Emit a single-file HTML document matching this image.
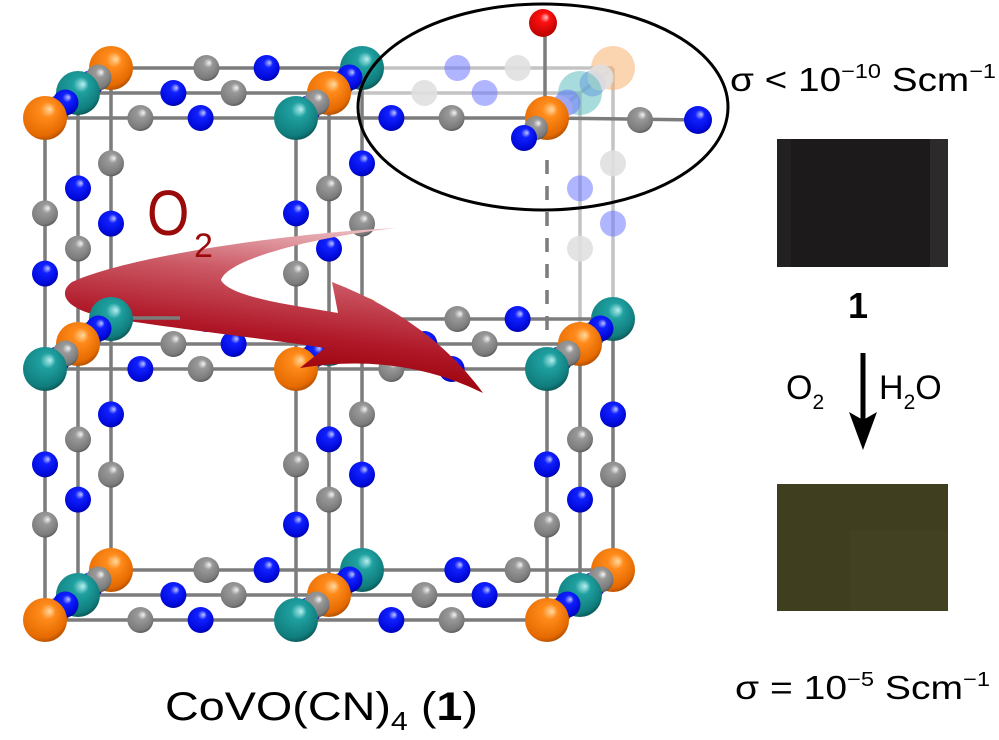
<!DOCTYPE html>
<html><head><meta charset="utf-8"><style>
html,body{margin:0;padding:0;background:#fff;}
svg{display:block;}
text{font-family:"Liberation Sans",Arial,sans-serif;}
</style></head><body>
<svg id="s" width="999" height="740" viewBox="0 0 999 740" xmlns="http://www.w3.org/2000/svg">
<defs>
<radialGradient id="gO" cx="0.4" cy="0.35" r="0.7" fx="0.62" fy="0.3"><stop offset="0" stop-color="#ffd9a0"/><stop offset="0.25" stop-color="#ff8a1a"/><stop offset="0.8" stop-color="#e56a00"/><stop offset="1" stop-color="#a84a00"/></radialGradient>
<radialGradient id="gT" cx="0.4" cy="0.35" r="0.7" fx="0.62" fy="0.3"><stop offset="0" stop-color="#b8f0f0"/><stop offset="0.25" stop-color="#1fa0a0"/><stop offset="0.8" stop-color="#107c7c"/><stop offset="1" stop-color="#0a5050"/></radialGradient>
<radialGradient id="gC" cx="0.4" cy="0.35" r="0.7" fx="0.62" fy="0.3"><stop offset="0" stop-color="#f4f4f4"/><stop offset="0.25" stop-color="#999"/><stop offset="0.8" stop-color="#7a7a7a"/><stop offset="1" stop-color="#505050"/></radialGradient>
<radialGradient id="gN" cx="0.4" cy="0.35" r="0.7" fx="0.62" fy="0.3"><stop offset="0" stop-color="#c0c8ff"/><stop offset="0.25" stop-color="#1020ff"/><stop offset="0.8" stop-color="#0008d8"/><stop offset="1" stop-color="#000490"/></radialGradient>
<radialGradient id="gR" cx="0.4" cy="0.35" r="0.7" fx="0.62" fy="0.3"><stop offset="0" stop-color="#ffc0c0"/><stop offset="0.25" stop-color="#ff1010"/><stop offset="1" stop-color="#b00000"/></radialGradient>
<linearGradient id="gA" gradientUnits="userSpaceOnUse" x1="420" y1="225" x2="400" y2="390"><stop offset="0" stop-color="#f2d0d4"/><stop offset="0.4" stop-color="#cc5a66"/><stop offset="0.75" stop-color="#b01828"/><stop offset="1" stop-color="#9a0008"/></linearGradient>
</defs>
<g id="lines"></g>
<g id="atomsBack"></g>
<path id="arrow" d="M397,228 C300,232 130,255 72,282 C58,292 62,310 110,318 C170,328 260,338 325,348 L300,368 Q400,352 483,393 Q430,320 332,282 L338,313 C300,306 230,298 221,280 C228,258 320,236 397,228 Z" fill="url(#gA)"/>
<g id="atomsFront"></g>
<ellipse cx="543" cy="107" rx="185" ry="103" fill="none" stroke="#000" stroke-width="3"/>
<text x="147" y="235" font-size="64" fill="#9a0a0a" transform="translate(147,0) scale(0.85,1) translate(-147,0)">O</text>
<text x="194" y="257" font-size="34" fill="#9a0a0a">2</text>

<text x="730" y="91" font-size="33" textLength="266" lengthAdjust="spacingAndGlyphs">σ &lt; 10<tspan dy="-13" font-size="20">−10</tspan><tspan dy="13"> Scm</tspan><tspan dy="-13" font-size="20">−1</tspan></text>
<rect x="777" y="139" width="171" height="128" fill="#1c1a1a"/>
<rect x="930" y="139" width="18" height="128" fill="#2c2a2a"/>
<rect x="777" y="139" width="14" height="128" fill="#222020"/>
<text x="858" y="318" font-size="36" font-weight="bold" text-anchor="middle">1</text>
<line x1="863" y1="353" x2="863" y2="420" stroke="#000" stroke-width="5"/>
<path d="M849,412 L863,420 L877,412 L863,450 Z" fill="#000"/>
<text x="786" y="399" font-size="34">O<tspan dy="10" font-size="21">2</tspan></text>
<text x="879" y="399" font-size="34">H<tspan dy="10" font-size="21">2</tspan><tspan dy="-10">O</tspan></text>
<rect x="777" y="484" width="171" height="127" fill="#3f3e1e"/>
<rect x="850" y="530" width="98" height="81" fill="#444322" opacity="0.7"/>
<text x="735" y="699" font-size="33" textLength="255" lengthAdjust="spacingAndGlyphs">σ = 10<tspan dy="-13" font-size="20">−5</tspan><tspan dy="13"> Scm</tspan><tspan dy="-13" font-size="20">−1</tspan></text>

<text x="165" y="720" font-size="40" textLength="313" lengthAdjust="spacingAndGlyphs">CoVO(CN)<tspan dy="10" font-size="26">4</tspan><tspan dy="-10"> (</tspan><tspan font-weight="bold">1</tspan>)</text>
</svg>
<script>
(function(){
var NS="http://www.w3.org/2000/svg";
var X=[45,296,547],Y=[118,369,620],DX=33,DY=-25;
function P(c,r,d){return [X[c]+DX*d,Y[r]+DY*d];}
function isO(c,r,d){return (c+r+d)%2==0;}
function faded(c,r,d){return c==2&&r==0&&(d==1||d==2);}
var lines=document.getElementById('lines'),back=document.getElementById('atomsBack'),front=document.getElementById('atomsFront');
function mk(t,a,p){var e=document.createElementNS(NS,t);for(var k in a)e.setAttribute(k,a[k]);p.appendChild(e);return e;}
var atoms=[];
function line(a,b,f,dash,par){mk('line',{x1:a[0],y1:a[1],x2:b[0],y2:b[1],stroke:f?'#c4c4c4':'#7c7c7c','stroke-width':3.5,'stroke-dasharray':dash||'none'},par||lines);}
function edge(c1,r1,d1,c2,r2,d2){
  var a=P(c1,r1,d1),b=P(c2,r2,d2);
  var f=faded(c1,r1,d1)||faded(c2,r2,d2);
  if(c1==2&&c2==2&&r1==0&&r2==1&&d1==0&&d2==0){
    line([547,160],[547,335],false,'14,12');return;}
  line(a,b,f);
  var o=isO(c1,r1,d1);
  var t1=0.38,t2=0.62;
  var p1=[a[0]+(b[0]-a[0])*t1,a[1]+(b[1]-a[1])*t1],p2=[a[0]+(b[0]-a[0])*t2,a[1]+(b[1]-a[1])*t2];
  var dep=(d1+d2)/2;
  atoms.push({x:p1[0],y:p1[1],d:dep,k:o?'C':'N',r:13,f:f});
  atoms.push({x:p2[0],y:p2[1],d:dep-0.01,k:o?'N':'C',r:13,f:f});
}
for(var d=0;d<3;d++)for(var r=0;r<3;r++)for(var c=0;c<3;c++){
  if(c<2)edge(c,r,d,c+1,r,d);
  if(r<2)edge(c,r,d,c,r+1,d);
  if(d<2)edge(c,r,d,c,r,d+1);
  var p=P(c,r,d);
  atoms.push({x:p[0],y:p[1],d:d,k:isO(c,r,d)?'O':'T',r:22,f:faded(c,r,d)});
}
// vanadyl extras
line([545,118],[545,23]);
line([547,118],[700,120]);
atoms.push({x:640,y:120,d:0,k:'C',r:13});
atoms.push({x:698,y:120,d:0,k:'N',r:14});
atoms.push({x:543,y:23,d:0,k:'R',r:14});
atoms.push({x:536,y:128,d:-0.3,k:'C',r:12});
atoms.push({x:524,y:138,d:-0.5,k:'N',r:13});
atoms.sort(function(a,b){return b.d-a.d;});
var fill={O:'url(#gO)',T:'url(#gT)',C:'url(#gC)',N:'url(#gN)',R:'url(#gR)'};
var fcol={O:'#f8b070',T:'#60c0c0',C:'#e0e0e0',N:'#7078ff'};
atoms.forEach(function(a){
  var par=(a.x<140)?front:back;
  if(a.f){mk('circle',{cx:a.x,cy:a.y,r:a.r,fill:fcol[a.k],opacity:a.k=='C'?0.9:0.55},par);}
  else mk('circle',{cx:a.x,cy:a.y,r:a.r,fill:fill[a.k]},par);
});
// stub line over arrow
var st=document.createElementNS(NS,'line');
st.setAttribute('x1',112);st.setAttribute('y1',318);st.setAttribute('x2',180);st.setAttribute('y2',318);st.setAttribute('stroke','#7c7c7c');st.setAttribute('stroke-width',3.5);
front.insertBefore(st,front.firstChild);
})();
</script>
</body></html>
